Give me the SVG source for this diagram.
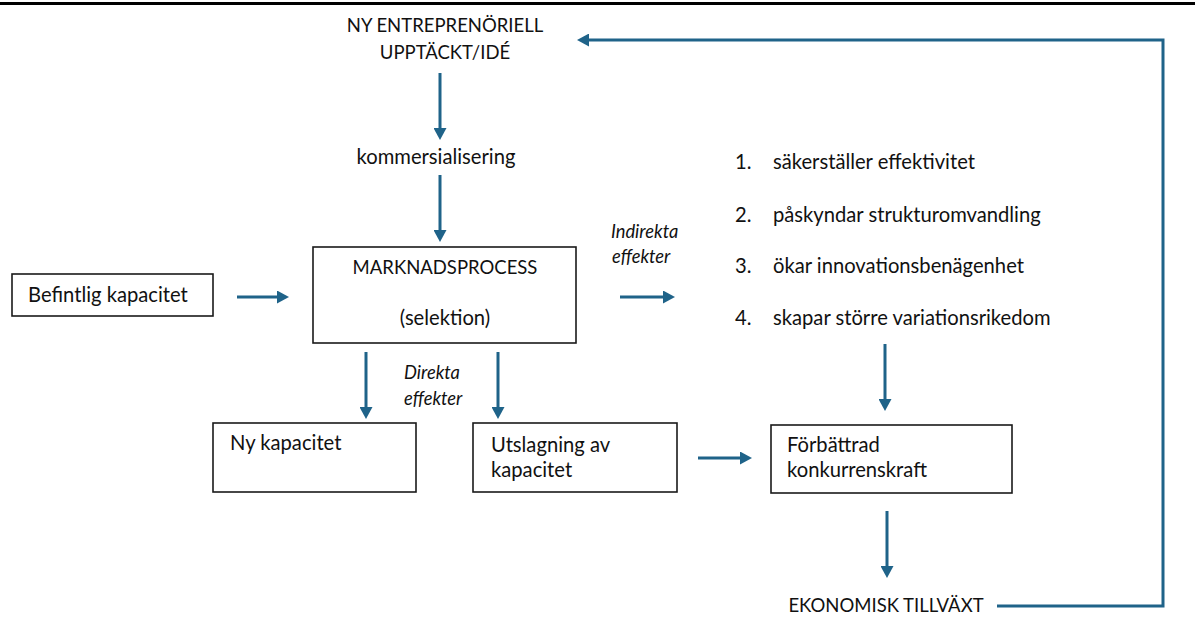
<svg xmlns="http://www.w3.org/2000/svg" width="1195" height="644" viewBox="0 0 1195 644">
  <style>
    .t { font-family: Lato, "Liberation Sans", sans-serif; font-size: 20.2px; fill: #111111; }
    .u { font-family: Lato, "Liberation Sans", sans-serif; font-size: 18.5px; fill: #111111; }
    .i { font-family: Lato, "Liberation Sans", sans-serif; font-size: 18.3px; font-style: italic; fill: #111111; }
    .c { text-anchor: middle; }
    .box { fill: #ffffff; stroke: #1a1a1a; stroke-width: 1.6; }
    .arr { fill: none; stroke: #1f6389; stroke-width: 3; marker-end: url(#ah); }
  </style>
  <defs>
    <marker id="ah" viewBox="0 0 12 13" refX="6" refY="6.5" markerWidth="12" markerHeight="13" markerUnits="userSpaceOnUse" orient="auto">
      <path d="M0,0 L12,6.5 L0,13 Z" fill="#1f6389"/>
    </marker>
  </defs>
  <rect width="1195" height="644" fill="#ffffff"/>
  <line x1="0" y1="3.5" x2="1195" y2="3.5" stroke="#000000" stroke-width="3"/>

  <g id="idea">
    <text class="u c" x="445" y="32">NY ENTREPRENÖRIELL</text>
    <text class="u c" x="445" y="59">UPPTÄCKT/IDÉ</text>
  </g>
  <g id="kommersialisering">
    <text class="t c" x="436" y="164">kommersialisering</text>
  </g>
  <g id="befintlig">
    <rect class="box" x="12" y="274" width="201" height="42"/>
    <text class="t" x="28" y="302">Befintlig kapacitet</text>
  </g>
  <g id="marknadsprocess">
    <rect class="box" x="313" y="247" width="263" height="96"/>
    <text class="u c" x="445" y="274">MARKNADSPROCESS</text>
    <text class="t c" x="445" y="325">(selektion)</text>
  </g>
  <g id="indirekta-label">
    <text class="i" x="611" y="238">Indirekta</text>
    <text class="i" x="612" y="263">effekter</text>
  </g>
  <g id="direkta-label">
    <text class="i" x="404" y="379">Direkta</text>
    <text class="i" x="404" y="405">effekter</text>
  </g>
  <g id="effects-list">
    <text class="t" x="735" y="169">1.</text>
    <text class="t" x="773" y="169">säkerställer effektivitet</text>
    <text class="t" x="735" y="222">2.</text>
    <text class="t" x="773" y="222">påskyndar strukturomvandling</text>
    <text class="t" x="735" y="273">3.</text>
    <text class="t" x="773" y="273">ökar innovationsbenägenhet</text>
    <text class="t" x="735" y="325">4.</text>
    <text class="t" x="773" y="325">skapar större variationsrikedom</text>
  </g>
  <g id="ny-kapacitet">
    <rect class="box" x="213" y="423" width="203" height="69"/>
    <text class="t" x="230" y="450">Ny kapacitet</text>
  </g>
  <g id="utslagning">
    <rect class="box" x="473" y="423" width="204" height="69"/>
    <text class="t" x="491" y="452">Utslagning av</text>
    <text class="t" x="491" y="477">kapacitet</text>
  </g>
  <g id="forbattrad">
    <rect class="box" x="771" y="425" width="241" height="68"/>
    <text class="t" x="787" y="452">Förbättrad</text>
    <text class="t" x="787" y="477">konkurrenskraft</text>
  </g>
  <g id="tillvaxt">
    <text class="u c" x="886" y="612">EKONOMISK TILLVÄXT</text>
  </g>

  <g id="connectors">
    <line class="arr" x1="440" y1="73" x2="440" y2="134"/>
    <line class="arr" x1="440" y1="175" x2="440" y2="236"/>
    <line class="arr" x1="237" y1="297" x2="283" y2="297"/>
    <line class="arr" x1="620" y1="297" x2="669" y2="297"/>
    <line class="arr" x1="366" y1="352" x2="366" y2="413"/>
    <line class="arr" x1="498" y1="352" x2="498" y2="413"/>
    <line class="arr" x1="698" y1="458" x2="746" y2="458"/>
    <line class="arr" x1="885" y1="344" x2="885" y2="405"/>
    <line class="arr" x1="887" y1="511" x2="887" y2="572"/>
    <polyline class="arr" points="997,606 1163,606 1163,40 583,40"/>
  </g>
</svg>
